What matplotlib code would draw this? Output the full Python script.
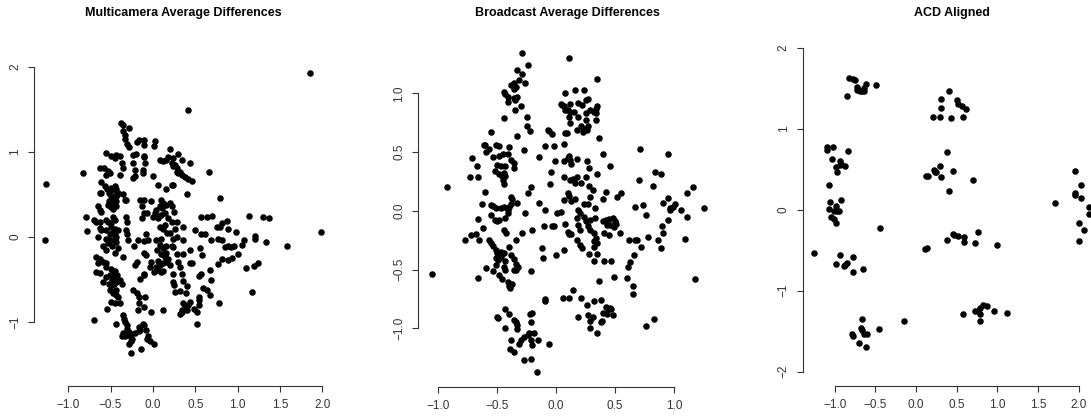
import numpy as np
import matplotlib.pyplot as plt

plt.rcParams['font.family'] = ['Liberation Sans', 'DejaVu Sans']

# (x, y) coordinates of the points in each panel
multicam_pts = [
    (1.86, 1.93), (0.42, 1.49), (-1.26, 0.62), (-1.27, -0.04), (1.99, 0.06), (-0.83, 0.75), (-0.79, 0.24),
    (-0.78, 0.07), (-0.69, -0.98), (1.58, -0.10), (1.17, -0.65), (1.34, -0.06), (1.30, 0.24), (1.37, 0.22),
    (1.13, 0.25), (1.20, 0.01), (1.20, -0.02), (1.10, -0.36), (1.19, -0.34), (1.24, -0.31), (1.07, -0.04),
    (1.05, -0.09), (0.98, 0.06), (0.89, 0.09), (0.87, 0.19), (1.00, -0.20), (0.96, -0.11), (0.89, -0.10),
    (0.92, -0.12), (0.85, -0.12), (0.79, 0.46), (0.66, 0.77), (0.81, 0.16), (0.70, 0.25), (0.64, 0.24),
    (0.57, 0.23), (0.50, 0.08), (0.57, 0.04), (0.62, 0.03), (0.68, -0.04), (0.77, -0.02), (0.82, -0.04),
    (0.79, 0.12), (0.76, 0.12), (0.82, -0.26), (0.89, -0.27), (0.93, -0.25), (0.77, -0.32), (0.67, -0.39),
    (0.68, -0.50), (0.78, -0.78), (0.56, -0.13), (0.58, -0.21), (0.55, -0.46), (0.57, -0.44), (0.59, -0.60),
    (0.64, -0.62), (0.67, -0.68), (0.55, -0.70), (0.54, -0.74), (0.55, -0.80), (0.52, -1.02), (0.52, -0.88),
    (0.48, -0.85), (0.42, -0.80), (0.44, -0.76), (0.40, -0.86), (0.36, -0.78), (0.34, -0.88), (0.44, -0.30),
    (0.46, -0.30), (0.44, -0.15), (0.40, -0.58), (0.35, -0.52), (0.32, -0.64), (0.39, -0.66), (0.36, -0.20),
    (0.36, 0.12), (0.35, -0.04), (0.29, 0.18), (0.26, 0.09), (0.20, 0.05), (0.24, -0.02), (0.22, -0.11),
    (0.24, -0.12), (0.16, -0.19), (0.30, -0.29), (0.32, -0.35), (0.34, -0.43), (0.24, -0.43), (0.24, -0.53),
    (0.25, -0.57), (0.26, -0.65), (0.32, -0.90), (0.34, -0.86), (0.38, -0.82), (0.12, -0.86), (-0.02, -0.88),
    (0.04, -0.35), (0.08, -0.33), (0.12, -0.31), (0.15, -0.29), (0.01, -0.41), (-0.04, -0.35), (-0.02, -0.29),
    (-0.10, -0.19), (-0.08, -0.21), (0.06, -0.39), (0.10, -0.41), (0.08, -0.09), (0.12, -0.13), (0.16, -0.11),
    (0.04, -0.04), (0.09, -0.02), (0.08, 0.12), (0.12, 0.10), (0.14, 0.14), (0.10, 0.26), (0.14, 0.28),
    (0.11, 0.34), (0.08, 0.36), (0.04, 0.32), (0.02, 0.28), (0.00, 0.24), (0.06, 0.22), (0.09, 0.44),
    (0.12, 0.40), (0.16, 0.38), (0.20, 0.40), (0.22, 0.37), (0.06, 0.61), (0.15, 0.57), (0.22, 0.61),
    (0.24, 0.61), (-0.02, 0.42), (-0.11, 0.44), (-0.07, 0.28), (-0.11, 0.28), (-0.13, 0.22), (0.00, 0.72),
    (0.01, 1.07), (0.03, 1.13), (0.20, 1.04), (0.08, 0.91), (0.12, 0.89), (0.15, 0.91), (0.18, 0.94),
    (0.24, 0.93), (0.22, 0.87), (0.24, 0.83), (0.26, 0.85), (0.28, 0.81), (0.30, 0.98), (0.34, 0.91),
    (0.30, 0.75), (0.34, 0.73), (0.38, 0.71), (0.42, 0.68), (0.46, 0.66), (0.28, 0.77), (0.32, 0.76),
    (0.44, 0.87), (0.40, 0.51), (-0.11, 1.14), (-0.19, 1.12), (-0.16, 1.14), (-0.10, 1.08), (-0.23, 0.96),
    (-0.20, 0.98), (-0.11, 0.95), (-0.10, 0.94), (-0.09, 0.87), (-0.12, 0.79), (-0.12, 0.75), (-0.23, 0.87),
    (-0.21, 0.79), (-0.21, 0.72), (-0.23, 0.69), (-0.28, 1.06), (-0.31, 1.10), (-0.33, 1.15), (-0.33, 1.20),
    (-0.35, 1.25), (-0.38, 1.34), (-0.35, 1.32), (-0.28, 1.28), (-0.43, 0.96), (-0.45, 0.93), (-0.39, 0.95),
    (-0.37, 0.87), (-0.35, 0.81), (-0.39, 0.73), (-0.55, 0.99), (-0.49, 0.95), (-0.63, 0.81), (-0.58, 0.81),
    (-0.53, 0.78), (-0.55, 0.73), (-0.51, 0.75), (-0.61, 0.65), (-0.56, 0.60), (-0.54, 0.56), (-0.52, 0.52),
    (-0.49, 0.58), (-0.47, 0.55), (-0.45, 0.60), (-0.43, 0.57), (-0.50, 0.48), (-0.47, 0.45), (-0.44, 0.48),
    (-0.42, 0.50), (-0.52, 0.42), (-0.49, 0.40), (-0.46, 0.38), (-0.43, 0.42), (-0.50, 0.35), (-0.47, 0.33),
    (-0.44, 0.36), (-0.41, 0.52), (-0.53, 0.38), (-0.63, 0.52), (-0.61, 0.52), (-0.35, 0.51), (-0.33, 0.44),
    (-0.65, 0.36), (-0.63, 0.32), (-0.61, 0.30), (-0.69, 0.20), (-0.67, 0.18), (-0.63, 0.18), (-0.63, 0.11),
    (-0.61, 0.08), (-0.65, 0.00), (-0.55, 0.20), (-0.53, 0.18), (-0.55, 0.08), (-0.51, 0.04), (-0.55, -0.02),
    (-0.49, -0.04), (-0.47, 0.24), (-0.45, 0.20), (-0.49, 0.16), (-0.45, 0.10), (-0.41, 0.08), (-0.45, 0.02),
    (-0.43, 0.00), (-0.53, -0.07), (-0.59, -0.11), (-0.55, -0.15), (-0.41, -0.13), (-0.45, -0.19),
    (-0.47, 0.06), (-0.50, 0.12), (-0.52, -0.03), (-0.48, -0.10), (-0.44, -0.06), (-0.67, -0.23),
    (-0.63, -0.26), (-0.65, -0.31), (-0.59, -0.29), (-0.55, -0.31), (-0.55, -0.35), (-0.67, -0.41),
    (-0.63, -0.42), (-0.59, -0.53), (-0.55, -0.47), (-0.51, -0.45), (-0.47, -0.43), (-0.52, -0.55),
    (-0.49, -0.57), (-0.46, -0.55), (-0.43, -0.53), (-0.45, -0.48), (-0.48, -0.50), (-0.51, -0.62),
    (-0.46, -0.64), (-0.43, -0.62), (-0.49, -0.38), (-0.45, -0.40), (-0.42, -0.45), (-0.39, -0.51),
    (-0.37, -0.55), (-0.47, -0.66), (-0.43, -0.68), (-0.41, -0.70), (-0.54, -0.85), (-0.49, -0.76),
    (-0.45, -0.78), (-0.39, -0.78), (-0.43, -1.02), (-0.35, -0.92), (-0.34, -0.96), (-0.33, -1.00),
    (-0.31, -1.04), (-0.30, -1.08), (-0.28, -1.12), (-0.27, -1.16), (-0.26, -1.14), (-0.25, -1.20),
    (-0.26, -1.22), (-0.28, -1.26), (-0.35, -1.13), (-0.37, -1.17), (-0.33, -1.17), (-0.26, -1.36),
    (-0.21, -1.13), (-0.17, -1.11), (-0.15, -1.09), (-0.16, -1.06), (-0.12, -1.02), (-0.10, -1.04),
    (-0.08, -1.10), (-0.06, -1.16), (-0.07, -1.20), (-0.03, -1.22), (0.01, -1.26), (-0.14, -1.32),
    (-0.23, -0.62), (-0.19, -0.66), (-0.17, -0.70), (-0.16, -0.78), (-0.18, -0.86), (-0.09, -0.71),
    (-0.11, -0.82), (-0.21, -0.33), (-0.19, -0.29), (-0.15, -0.49), (-0.11, -0.43), (-0.10, -0.45),
    (-0.22, -0.11), (-0.30, 0.04), (-0.32, 0.08), (-0.29, -0.04), (-0.32, 0.24), (-0.30, 0.18), (-0.32, 0.44),
    (-0.35, -0.23), (-0.18, -0.04), (-0.11, -0.05), (-0.06, -0.03), (-0.08, 0.04), (-0.15, 0.44), (-0.13, 0.36),
    (0.05, -0.15), (0.10, -0.20), (0.14, -0.24), (0.18, -0.26), (0.20, -0.33), (0.12, -0.40), (0.06, -0.28),
    (0.22, 0.18), (0.18, 0.22), (0.25, 0.30), (0.17, 0.05), (0.28, -0.20), (0.28, 0.00),
]

broadcast_pts = [
    (-1.05, -0.54), (-0.92, 0.20), (-0.29, 1.34), (0.11, 1.30), (0.35, 1.12), (-0.24, 1.24), (-0.33, 1.20),
    (-0.29, 1.16), (-0.26, 1.09), (-0.31, 1.11), (-0.36, 1.09), (-0.38, 1.07), (-0.36, 1.04), (-0.34, 1.05),
    (-0.44, 1.01), (-0.43, 0.99), (-0.41, 0.97), (-0.36, 0.96), (-0.33, 0.97), (-0.35, 0.94), (-0.41, 0.93),
    (-0.30, 0.89), (-0.35, 0.86), (-0.44, 0.79), (-0.25, 0.80), (-0.33, 0.64), (-0.25, 0.72), (-0.22, 0.68),
    (-0.55, 0.67), (-0.27, 0.52), (-0.61, 0.56), (-0.60, 0.56), (-0.57, 0.53), (-0.59, 0.50), (-0.51, 0.56),
    (-0.48, 0.55), (-0.40, 0.54), (-0.71, 0.45), (-0.73, 0.29), (-0.66, 0.29), (-0.67, 0.38), (-0.53, 0.46),
    (-0.48, 0.47), (-0.45, 0.48), (-0.41, 0.48), (-0.38, 0.43), (-0.36, 0.41), (-0.50, 0.39), (-0.47, 0.38),
    (-0.43, 0.38), (-0.52, 0.34), (-0.48, 0.31), (-0.46, 0.30), (-0.44, 0.32), (-0.43, 0.30), (-0.45, 0.26),
    (-0.44, 0.23), (-0.36, 0.36), (-0.60, 0.16), (-0.63, 0.06), (-0.66, -0.07), (-0.62, -0.15), (-0.55, 0.05),
    (-0.53, 0.04), (-0.51, 0.02), (-0.55, -0.04), (-0.52, -0.08), (-0.50, -0.09), (-0.48, -0.08),
    (-0.47, 0.02), (-0.44, 0.03), (-0.41, 0.01), (-0.38, 0.06), (-0.37, 0.10), (-0.38, 0.12), (-0.40, 0.03),
    (-0.41, -0.02), (-0.43, -0.06), (-0.44, -0.16), (-0.42, -0.19), (-0.33, 0.07), (-0.26, -0.02),
    (-0.29, -0.19), (-0.20, -0.16), (-0.24, 0.15), (-0.21, 0.20), (-0.34, -0.25), (-0.77, -0.25),
    (-0.72, -0.21), (-0.68, -0.20), (-0.65, -0.25), (-0.57, -0.25), (-0.55, -0.27), (-0.53, -0.30),
    (-0.51, -0.33), (-0.50, -0.36), (-0.51, -0.40), (-0.47, -0.35), (-0.47, -0.39), (-0.44, -0.36),
    (-0.49, -0.42), (-0.40, -0.31), (-0.38, -0.38), (-0.36, -0.41), (-0.34, -0.45), (-0.32, -0.48),
    (-0.36, -0.50), (-0.34, -0.50), (-0.43, -0.43), (-0.44, -0.48), (-0.43, -0.50), (-0.59, -0.49),
    (-0.53, -0.51), (-0.51, -0.46), (-0.48, -0.55), (-0.46, -0.58), (-0.66, -0.57), (-0.41, -0.61),
    (-0.40, -0.64), (-0.37, -0.62), (-0.39, -0.66), (-0.21, -0.51), (-0.50, -0.90), (-0.49, -0.91),
    (-0.43, -0.84), (-0.40, -0.88), (-0.36, -0.93), (-0.34, -0.95), (-0.33, -0.97), (-0.33, -1.01),
    (-0.43, -1.00), (-0.38, -1.10), (-0.39, -1.18), (-0.36, -1.20), (-0.31, -1.13), (-0.30, -1.10),
    (-0.27, -1.07), (-0.24, -1.06), (-0.21, -1.10), (-0.23, -1.04), (-0.19, -1.04), (-0.20, -1.14),
    (-0.15, -1.10), (-0.21, -0.95), (-0.20, -0.87), (-0.22, -0.88), (-0.27, -1.27), (-0.21, -1.26),
    (-0.16, -1.37), (-0.06, -1.13), (-0.09, -0.75), (-0.09, -0.77), (-0.12, -0.32), (-0.11, -0.40),
    (-0.14, 0.07), (-0.14, 0.46), (-0.09, 0.01), (-0.10, -0.13), (-0.03, -0.13), (-0.02, -0.13),
    (0.00, -0.38), (-0.09, 0.55), (-0.02, 0.55), (-0.06, 0.68), (-0.03, 0.65), (-0.04, 0.33), (-0.05, 0.23),
    (-0.01, 0.42), (0.01, -0.02), (0.04, -0.01), (0.07, 0.09), (0.08, -0.11), (0.07, -0.33), (0.11, -0.20),
    (0.10, -0.18), (0.13, -0.20), (0.07, 0.42), (0.07, 0.29), (0.10, 0.45), (0.11, 0.47), (0.12, 0.43),
    (0.13, 0.40), (0.18, 0.44), (0.11, 0.13), (0.12, 0.26), (0.14, 0.27), (0.16, 0.24), (0.18, 0.29),
    (0.21, 0.24), (0.10, 0.15), (0.16, 0.10), (0.13, 0.08), (0.19, 0.01), (0.20, -0.02), (0.18, -0.06),
    (0.19, -0.12), (0.20, -0.16), (0.18, -0.25), (0.20, -0.29), (0.22, -0.32), (0.24, -0.05), (0.25, -0.09),
    (0.27, -0.13), (0.29, -0.08), (0.24, 0.06), (0.27, 0.06), (0.25, 0.29), (0.28, 0.21), (0.29, 0.12),
    (0.26, 0.42), (0.28, 0.36), (0.31, 0.18), (0.33, 0.02), (0.33, -0.06), (0.35, 0.31), (0.29, -0.16),
    (0.32, -0.19), (0.34, -0.23), (0.32, -0.26), (0.35, -0.27), (0.28, -0.37), (0.32, -0.31), (0.32, -0.43),
    (0.35, -0.37), (0.36, -0.60), (0.07, 0.57), (0.08, 0.66), (-0.07, 0.69), (0.04, 0.91), (0.05, 0.90),
    (0.07, 0.89), (0.08, 0.86), (0.10, 0.86), (0.12, 0.84), (0.08, 1.00), (0.12, 0.91), (0.15, 0.84),
    (0.11, 0.80), (0.12, 0.75), (0.16, 1.03), (0.24, 1.03), (0.19, 0.92), (0.22, 0.90), (0.25, 0.94),
    (0.27, 0.95), (0.18, 0.69), (0.21, 0.72), (0.24, 0.70), (0.23, 0.67), (0.26, 0.69), (0.27, 0.72),
    (0.25, 0.77), (0.29, 0.86), (0.32, 0.84), (0.34, 0.83), (0.35, 0.89), (0.34, 0.87), (0.34, 0.77),
    (0.36, 0.62), (0.09, 0.66), (0.25, 0.83), (0.19, 0.80), (0.40, 0.48), (0.46, 0.38), (0.42, 0.16),
    (0.40, 0.10), (0.42, -0.08), (0.45, -0.07), (0.48, -0.06), (0.46, -0.12), (0.50, -0.09), (0.49, -0.14),
    (0.51, -0.11), (0.40, -0.09), (0.43, -0.12), (0.41, -0.19), (0.45, -0.21), (0.54, -0.19), (0.52, 0.12),
    (0.55, 0.15), (0.41, -0.43), (0.47, -0.43), (0.49, -0.56), (0.06, -0.74), (0.11, -0.74), (0.14, -0.67),
    (0.21, -0.74), (0.19, -0.90), (0.26, -0.80), (0.27, -0.89), (0.29, -0.94), (0.29, -1.00), (0.31, -0.90),
    (0.35, -1.04), (0.32, -0.77), (0.38, -0.76), (0.38, -0.95), (0.39, -0.94), (0.42, -0.82), (0.44, -0.84),
    (0.46, -0.83), (0.47, -0.84), (0.48, -0.89), (0.40, -0.87), (0.43, -0.88), (0.62, -0.25), (0.61, -0.48),
    (0.63, -0.44), (0.60, -0.57), (0.65, -0.64), (0.65, -0.71), (0.66, -0.38), (0.67, -0.25), (0.71, 0.53),
    (0.67, 0.03), (0.74, 0.05), (0.72, -0.31), (0.69, -0.25), (0.70, 0.26), (0.76, -0.04), (0.78, -0.22),
    (0.76, -0.98), (0.83, -0.92), (0.82, 0.21), (0.84, 0.33), (0.89, 0.31), (0.86, -0.25), (0.89, -0.32),
    (0.90, -0.13), (0.91, -0.19), (0.95, 0.48), (0.95, 0.11), (0.91, 0.07), (0.95, -0.08), (0.97, 0.02),
    (0.99, 0.03), (0.97, 0.01), (1.01, 0.06), (1.06, 0.01), (1.11, -0.05), (1.11, 0.15), (1.16, 0.20),
    (1.09, -0.24), (1.18, -0.58), (1.25, 0.02),
]

acd_pts = [
    (-1.26, -0.54), (-0.82, 1.63), (-0.77, 1.61), (-0.75, 1.60), (-0.85, 1.41), (-0.73, 1.51), (-0.73, 1.48),
    (-0.69, 1.46), (-0.66, 1.47), (-0.64, 1.50), (-0.62, 1.55), (-0.64, 1.46), (-0.49, 1.54), (-1.10, 0.78),
    (-1.09, 0.74), (-1.02, 0.78), (-1.03, 0.62), (-0.84, 0.72), (-0.94, 0.60), (-0.92, 0.57), (-0.98, 0.53),
    (-0.97, 0.47), (-0.87, 0.54), (-0.93, 0.55), (-1.07, 0.30), (-0.92, 0.12), (-1.06, 0.09), (-1.07, 0.01),
    (-0.99, 0.04), (-0.97, -0.01), (-1.01, -0.01), (-0.95, -0.02), (-1.04, -0.09), (-1.01, -0.12),
    (-0.98, -0.16), (-0.44, -0.22), (-0.93, -0.56), (-0.98, -0.67), (-0.89, -0.70), (-0.87, -0.68),
    (-0.85, -0.66), (-0.77, -0.59), (-0.77, -0.77), (-0.65, -0.73), (-0.67, -1.35), (-0.79, -1.53),
    (-0.77, -1.56), (-0.68, -1.46), (-0.66, -1.49), (-0.64, -1.53), (-0.60, -1.54), (-0.70, -1.65),
    (-0.61, -1.70), (-0.46, -1.47), (-0.15, -1.38), (0.11, -0.49), (0.13, -0.47), (0.12, 0.42), (0.15, 0.41),
    (0.22, 0.49), (0.25, 0.47), (0.23, 0.46), (0.30, 0.54), (0.31, 0.40), (0.38, 0.71), (0.45, 0.48),
    (0.41, 0.23), (0.70, 0.37), (0.21, 1.14), (0.29, 1.14), (0.31, 1.26), (0.31, 1.37), (0.41, 1.47),
    (0.43, 1.13), (0.50, 1.35), (0.52, 1.30), (0.57, 1.28), (0.61, 1.24), (0.58, 1.14), (0.38, -0.37),
    (0.45, -0.30), (0.47, -0.31), (0.52, -0.32), (0.59, -0.34), (0.59, -0.40), (0.72, -0.41), (0.76, -0.27),
    (1.00, -0.44), (0.58, -1.29), (0.73, -1.25), (0.76, -1.25), (0.79, -1.22), (0.82, -1.18), (0.87, -1.19),
    (0.79, -1.29), (0.79, -1.37), (0.96, -1.25), (1.12, -1.28), (1.71, 0.08), (1.95, 0.48), (1.95, 0.21),
    (1.95, 0.18), (2.03, 0.30), (2.03, 0.14), (2.00, -0.16), (2.06, -0.25), (2.00, -0.39), (2.13, 0.03),
    (2.13, -0.05),
]

panels = [
    ("Multicamera Average Differences", multicam_pts,
     [-1.0, -0.5, 0.0, 0.5, 1.0, 1.5, 2.0], [-1, 0, 1, 2], "%d"),
    ("Broadcast Average Differences", broadcast_pts,
     [-1.0, -0.5, 0.0, 0.5, 1.0], [-1.0, -0.5, 0.0, 0.5, 1.0], "%.1f"),
    ("ACD Aligned", acd_pts,
     [-1.0, -0.5, 0.0, 0.5, 1.0, 1.5, 2.0], [-2, -1, 0, 1, 2], "%d"),
]


def fmt(v, pattern):
    return (pattern % v).replace("-", "\u2212")


W, H = 1091, 417
fig = plt.figure(figsize=(W / 100, H / 100), dpi=100)

# pixel boxes (left, right, top, bottom) and data limits, equal aspect like R's asp=1
boxes = [(34.3, 332.5, 38.8, 386.0), (418.3, 717.1, 37.7, 386.7), (803.0, 1101.0, 40.6, 386.0)]
xlims = [(-1.40, 2.12), (-1.167, 1.365), (-1.39, 2.274)]
ylims = [(-1.753, 2.332), (-1.497, 1.473), (-2.177, 2.088)]

for (title, pts, xt, yt, yfmt), (l, r, t, b), xl, yl in zip(panels, boxes, xlims, ylims):
    ax = fig.add_axes([l / W, 1 - b / H, (r - l) / W, (b - t) / H])
    arr = np.array(pts)
    ax.scatter(arr[:, 0], arr[:, 1], s=22, color="black", linewidths=0, clip_on=False)
    ax.set_xlim(*xl)
    ax.set_ylim(*yl)
    for side in ["top", "right"]:
        ax.spines[side].set_visible(False)
    ax.spines["left"].set_bounds(yt[0], yt[-1])
    ax.spines["bottom"].set_bounds(xt[0], xt[-1])
    for side in ["left", "bottom"]:
        ax.spines[side].set_linewidth(0.8)
        ax.spines[side].set_color("#333333")
    ax.set_xticks(xt)
    ax.set_xticklabels([fmt(v, "%.1f") for v in xt])
    ax.set_yticks(yt)
    ax.set_yticklabels([fmt(v, yfmt) for v in yt])
    ax.tick_params(direction="out", length=4.5, width=0.8, labelsize=8.5,
                   color="#333333", labelcolor="#333333", pad=5)
    for lbl in ax.get_yticklabels():
        lbl.set_rotation(90)
        lbl.set_va("center")
    fig.text(((l + r) / 2) / W, 1 - 13 / H, title, ha="center", va="center",
             fontsize=9, fontweight="bold")

fig.savefig("out.png", dpi=100)
